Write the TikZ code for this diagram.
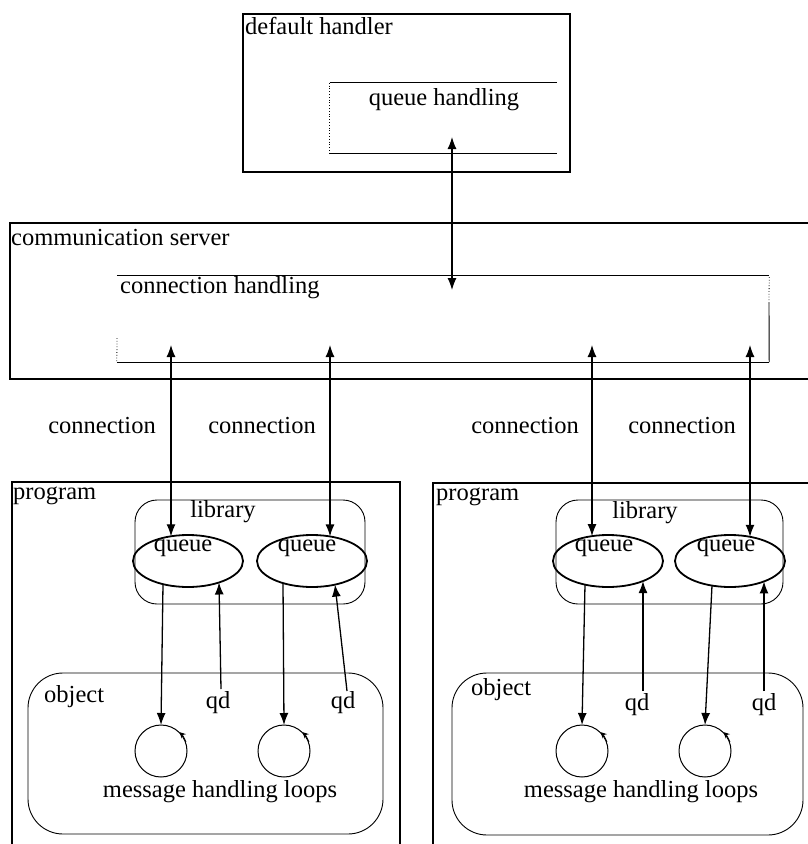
\documentclass[tikz,border=0pt]{standalone}
\usepackage{fontspec}
\setmainfont{Liberation Serif}
\usetikzlibrary{shapes.geometric,arrows.meta}
\begin{document}
\begin{tikzpicture}[x=1pt,y=-1pt,
  lbl/.style={inner sep=0pt, font=\fontsize{24.5}{28}\selectfont},
  thickbox/.style={draw, line width=1.8pt, inner sep=0pt},
  thinbox/.style={draw, line width=0.9pt, inner sep=0pt},
  ghost/.style={inner sep=0pt},
  thinline/.style={line width=0.9pt},
  dotline/.style={line width=0.8pt, dotted},
  qnode/.style={draw, ellipse, line width=1.8pt, minimum width=110pt, minimum height=52pt, inner sep=0pt},
  loopnode/.style={draw, circle, line width=1pt, minimum size=52pt, inner sep=0pt},
  conn/.style={line width=1.3pt, -{Latex[length=12pt,width=9pt]}},
  dconn/.style={line width=1.2pt, {Latex[length=12pt,width=9pt]}-{Latex[length=12pt,width=9pt]}},
  looptip/.style={line width=0.8pt, -{Stealth[length=6pt,width=6pt]}},
]
\useasboundingbox (0,0) rectangle (808,844);
\clip (0,0) rectangle (808,844);

% default handler
\node[thickbox, minimum width=327pt, minimum height=158pt] (dh) at (406.5,93) {};
\node[lbl, anchor=west] (dhl) at (245,26) {default handler};
\node[ghost, minimum width=227pt, minimum height=70pt] (qh) at (443.5,118) {};
\draw[thinline] (qh.north west) -- (qh.north east);
\draw[thinline] (qh.south west) -- (qh.south east);
\draw[dotline] (qh.north west) -- (qh.south west);
\node[lbl] (qht) at (444,100) {queue handling};

% communication server
\node[thickbox, minimum width=805pt, minimum height=156pt] (cs) at (412.5,301) {};
\node[lbl, anchor=west] (csl) at (11,238) {communication server};
\node[ghost, minimum width=652pt, minimum height=86pt] (ch) at (443,319) {};
\draw[thinline] (ch.north west) -- (ch.north east);
\draw[thinline] (ch.south west) -- (ch.south east);
\coordinate (chr) at (769,303);
\coordinate (chl) at (117,338);
\draw[thinline] (ch.south east) -- (chr);
\draw[dotline] (chr) -- (ch.north east);
\draw[dotline] (chl) -- (ch.south west);
\node[lbl, anchor=west] (chlb) at (120,288) {connection handling};

% programs
\node[thickbox, minimum width=388pt, minimum height=368pt] (pl) at (206,666) {};
\node[thickbox, minimum width=382pt, minimum height=367pt] (pr) at (624,666.5) {};
\node[lbl, anchor=west] (pll) at (13,496) {program};
\node[lbl, anchor=west] (prl) at (436,497) {program};

% libraries
\node[thinbox, rounded corners=22pt, minimum width=230pt, minimum height=104pt] (lib1) at (250,552) {};
\node[thinbox, rounded corners=22pt, minimum width=227pt, minimum height=104pt] (lib2) at (669.5,552) {};
\node[lbl] (lib1l) at (223,512) {library};
\node[lbl] (lib2l) at (645,513) {library};

% queues
\node[qnode] (q1) at (188,561) {};
\node[qnode] (q2) at (312,561) {};
\node[qnode] (q3) at (608,561) {};
\node[qnode] (q4) at (730,561) {};
\node[lbl] (q1l) at (183,548) {queue};
\node[lbl] (q2l) at (307,548) {queue};
\node[lbl] (q3l) at (604,548) {queue};
\node[lbl] (q4l) at (726,548) {queue};

% objects
\node[thinbox, rounded corners=35pt, minimum width=355pt, minimum height=161pt] (obj1) at (205.5,753.5) {};
\node[thinbox, rounded corners=35pt, minimum width=351pt, minimum height=162pt] (obj2) at (627.5,754) {};
\node[lbl, anchor=west] (obj1l) at (44,697) {object};
\node[lbl, anchor=west] (obj2l) at (471,690) {object};

% loops
\node[loopnode] (c1) at (161,751) {};
\node[loopnode] (c2) at (284,751) {};
\node[loopnode] (c3) at (582,751) {};
\node[loopnode] (c4) at (705,751) {};
\foreach \c in {c1,c2,c3,c4}
  \draw[looptip] (\c.20) arc[start angle=20, end angle=46, radius=26pt];
\node[lbl] (m1) at (220,792) {message handling loops};
\node[lbl] (m2) at (641,792) {message handling loops};

% qd labels
\node[lbl] (qd1) at (218,703) {qd};
\node[lbl] (qd2) at (343,703) {qd};
\node[lbl] (qd3) at (637,705) {qd};
\node[lbl] (qd4) at (764,705) {qd};

% connection labels
\node[lbl] (cn1) at (102,426) {connection};
\node[lbl] (cn2) at (262,426) {connection};
\node[lbl] (cn3) at (525,426) {connection};
\node[lbl] (cn4) at (682,426) {connection};

% arrow end points
\coordinate (a0t) at (452,137);
\coordinate (a0b) at (452,290);
\coordinate (a1t) at (171,345);
\coordinate (a1b) at (171,536.3);
\coordinate (a2t) at (330,345);
\coordinate (a2b) at (330,536.4);
\coordinate (a3t) at (592,345);
\coordinate (a3b) at (592,536.1);
\coordinate (a4t) at (750,345);
\coordinate (a4b) at (750,536.8);

\coordinate (d1s) at (163,584.2);
\coordinate (d1e) at (161,725);
\coordinate (d2s) at (283,583.1);
\coordinate (d2e) at (284,725);
\coordinate (d3s) at (585,584.6);
\coordinate (d3e) at (582,725);
\coordinate (d4s) at (712,585.6);
\coordinate (d4e) at (705,725);

\coordinate (u1s) at (221,689);
\coordinate (u1e) at (219,582.5);
\coordinate (u2s) at (347,691);
\coordinate (u2e) at (335,584.6);
\coordinate (u3s) at (643,691);
\coordinate (u3e) at (643,581.1);
\coordinate (u4s) at (764,691);
\coordinate (u4e) at (764,581.4);

\draw[dconn] (a0t) -- (a0b);
\draw[dconn] (a1t) -- (a1b);
\draw[dconn] (a2t) -- (a2b);
\draw[dconn] (a3t) -- (a3b);
\draw[dconn] (a4t) -- (a4b);

\draw[conn] (d1s) -- (d1e);
\draw[conn] (d2s) -- (d2e);
\draw[conn] (d3s) -- (d3e);
\draw[conn] (d4s) -- (d4e);

\draw[conn] (u1s) -- (u1e);
\draw[conn] (u2s) -- (u2e);
\draw[conn] (u3s) -- (u3e);
\draw[conn] (u4s) -- (u4e);
\end{tikzpicture}
\end{document}
